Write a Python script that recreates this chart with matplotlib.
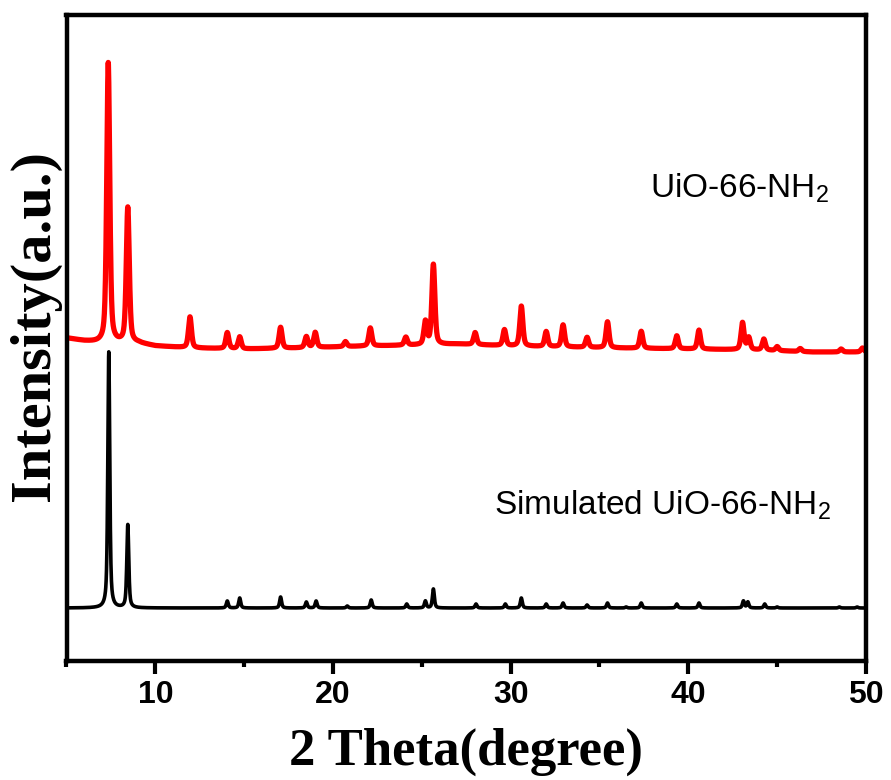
import numpy as np
import matplotlib
matplotlib.use("Agg")
import matplotlib.pyplot as plt

# ---------------- data ----------------
# experimental UiO-66-NH2 pattern: baseline + peak list
exp_base_x = [5, 6, 7, 8, 9, 10, 12, 15, 18, 20, 22, 25, 27, 30, 33, 36, 40, 44, 47, 50]
exp_base_y = [323, 320, 318, 318, 318, 315, 313, 312, 313, 314, 315, 316, 317, 315, 314, 313, 312, 311, 309, 309]
exp_pk_pos = [7.35, 8.45, 11.95, 14.05, 14.75, 17.05, 18.5, 19.0, 20.7, 22.1, 24.1, 25.2, 25.65,
              28.0, 29.65, 30.6, 32.0, 32.95, 34.3, 35.45, 37.35, 39.35, 40.6, 43.05, 43.4,
              44.25, 45.0, 46.3, 48.6, 49.8]
exp_pk_int = [280, 135, 31, 16, 12, 21, 11, 15, 5, 18, 8, 23, 80,
              12, 16, 40, 15, 22, 10, 26, 17, 13, 19, 27, 12,
              11, 4, 3, 3, 4]

# simulated UiO-66-NH2 pattern
sim_base = 53
sim_pk_pos = [7.38, 8.45, 14.05, 14.75, 17.05, 18.5, 19.05, 20.8, 22.15, 24.15, 25.2, 25.65,
              28.05, 29.7, 30.6, 32.0, 32.95, 34.3, 35.45, 36.5, 37.35, 39.35, 40.6, 43.1,
              43.35, 44.3, 45.0, 48.5, 49.5]
sim_pk_int = [256, 83, 7, 10, 11, 6, 7, 2, 8, 4, 7, 19,
              4, 4, 10, 4, 5, 3, 5, 1, 5, 4, 5, 7,
              6, 4, 1, 1, 1]

x_ticks = [10, 20, 30, 40, 50]
labels = ["UiO-66-NH$\\mathregular{_2}$", "Simulated UiO-66-NH$\\mathregular{_2}$"]


def profile(x, pos, inten, fwhm, eta):
    y = np.zeros_like(x)
    for c, h in zip(pos, inten):
        d = (x - c) / (fwhm / 2)
        g = np.exp(-np.log(2) * d ** 2)
        lo = 1 / (1 + d ** 2)
        y += h * (eta * lo + (1 - eta) * g)
    return y


x = np.linspace(5, 50, 4501)
y_exp = np.interp(x, exp_base_x, exp_base_y) + profile(x, exp_pk_pos, exp_pk_int, 0.20, 0.5)
y_sim = sim_base + profile(x, sim_pk_pos, sim_pk_int, 0.13, 0.6)

# ---------------- figure ----------------
fig = plt.figure(figsize=(8.91, 7.8), dpi=100)
ax = fig.add_axes([66.5 / 891, 1 - 661 / 780, 799.5 / 891, 646 / 780])

ax.plot(x, y_exp, color="#ff0000", lw=3.8, solid_joinstyle="round")
ax.plot(x, y_sim, color="black", lw=2.6, solid_joinstyle="round")

ax.set_xlim(5, 50)
ax.set_ylim(0, 646)

for s in ax.spines.values():
    s.set_linewidth(3.2)

ax.set_xticks(x_ticks)
ax.set_xticks([5, 15, 25, 35, 45], minor=True)
ax.tick_params(axis="x", which="major", direction="out", length=9, width=3, pad=5)
ax.tick_params(axis="x", which="minor", direction="out", length=4.5, width=3)
ax.set_yticks([])
for lab in ax.get_xticklabels():
    lab.set_fontfamily("Liberation Sans")
    lab.set_fontweight("bold")
    lab.set_fontsize(23)

ax.set_xlabel("2 Theta(degree)", fontfamily="Liberation Serif", fontweight="bold", fontsize=38)
ax.xaxis.label.set_va("center")
ax.xaxis.set_label_coords(0.5, -0.141)
ax.set_ylabel("Intensity(a.u.)", fontfamily="Liberation Serif", fontweight="bold", fontsize=42)
ax.yaxis.label.set_va("center")
ax.yaxis.set_label_coords(-0.039, 0.52)

ax.text(0.730, 0.732, labels[0], transform=ax.transAxes, fontfamily="Liberation Sans",
        fontsize=24, ha="left", va="center")
ax.text(0.535, 0.2415, labels[1], transform=ax.transAxes, fontfamily="Liberation Sans",
        fontsize=24, ha="left", va="center")

fig.savefig("out.png", dpi=100)
